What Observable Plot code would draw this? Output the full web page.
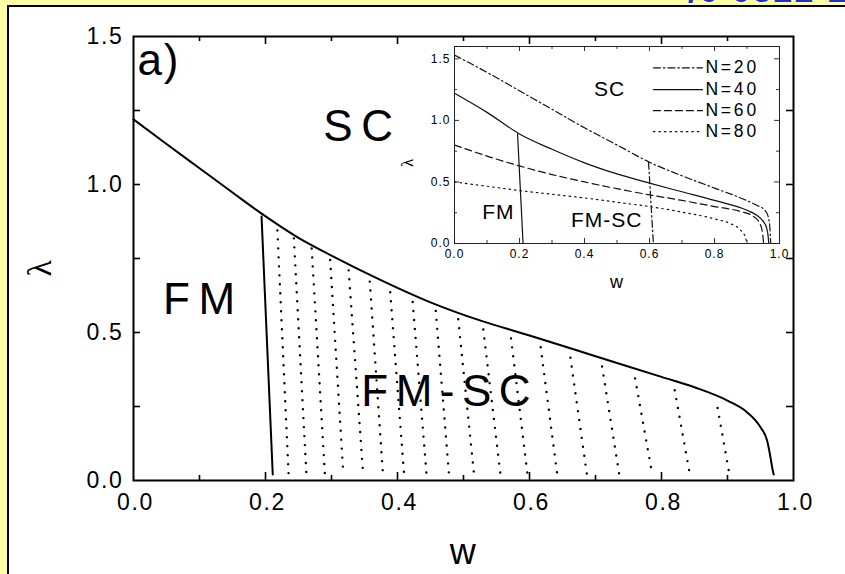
<!DOCTYPE html>
<html><head><meta charset="utf-8">
<script src="https://cdn.jsdelivr.net/npm/d3@7"></script>
<script src="https://cdn.jsdelivr.net/npm/@observablehq/plot@0.6"></script>
<style>
html,body{margin:0;padding:0;background:#ffffa4;}
#wrap{position:relative;width:845px;height:574px;overflow:hidden;background:#ffffa4;font-family:"Liberation Sans",Arial,sans-serif;}
#ref{position:absolute;left:688px;top:-29px;font:bold 34px "Liberation Sans",Arial,sans-serif;color:#1f2fd6;letter-spacing:2px;white-space:nowrap;}
#panel{position:absolute;left:7px;top:5px;width:900px;height:620px;background:#fff;border:2px solid #000;}
#main,#inset{position:absolute;left:0;top:0;}
svg{overflow:visible}
</style></head><body>
<div id="wrap"><div id="ref">/0 0522 1</div><div id="panel"></div><div id="main"></div><div id="inset"></div></div>
<script>
// ---------- main panel (a) : N = 40 ----------
const mainW = [0,0.05,0.1,0.15,0.192,0.25,0.3,0.374,0.45,0.526,0.6,0.7,0.8,0.85,0.9,0.93,0.95,0.96,0.965,0.968,0.97];
const mainL = [1.22,1.137,1.055,0.973,0.905,0.82,0.76,0.678,0.602,0.54,0.49,0.42,0.35,0.315,0.27,0.23,0.18,0.135,0.08,0.04,0.02];
const fmW = [0.194, 0.211];
const fmL = [0.892, 0.02];
// dotted lines inside FM-SC region
const dotTopW = [0.218,0.243,0.270,0.298,0.326,0.358,0.389,0.423,0.458,0.492,0.53,0.572,0.617,0.662,0.71,0.76,0.82,0.885];
const dotTopL = [0.845,0.818,0.784,0.745,0.71,0.672,0.636,0.603,0.573,0.545,0.51,0.48,0.45,0.415,0.385,0.345,0.305,0.245];
const dotBotW = [0.235,0.262,0.290,0.318,0.348,0.378,0.410,0.444,0.478,0.516,0.556,0.597,0.642,0.687,0.736,0.786,0.843,0.903];
const dotBotL = 0.02;
const mainXTicks = [0,0.2,0.4,0.6,0.8,1.0];
const mainYTicks = [0,0.5,1.0,1.5];
const mainXMajor = [0.2,0.4,0.6,0.8];
const mainXMinor = [0.1,0.3,0.5,0.7,0.9];
const mainYMinor = [0.25,0.5,0.75,1.0,1.25];
const mainLabels = ["SC","FM","FM-SC"];
const mainLabelW = [0.341,0.10,0.473];
const mainLabelL = [1.196,0.611,0.30];

// ---------- inset : N = 20, 40, 60, 80 ----------
const series = ["N=20","N=40","N=60","N=80"];
const dashes = ["7,3,1.5,3", null, "7,4", "1.5,4"];
const inW20 = [0,0.1,0.2,0.3,0.4,0.5,0.6,0.7,0.8,0.88,0.93,0.955,0.965,0.97,0.972,0.973];
const inL20 = [1.53,1.39,1.24,1.09,0.94,0.80,0.66,0.55,0.45,0.37,0.31,0.27,0.22,0.14,0.05,0];
const inW40 = [0,0.1,0.2,0.3,0.4,0.5,0.6,0.7,0.8,0.9,0.93,0.95,0.96,0.965,0.967];
const inL40 = [1.22,1.065,0.89,0.765,0.655,0.565,0.49,0.42,0.35,0.27,0.23,0.18,0.13,0.06,0];
const inW60 = [0,0.1,0.2,0.3,0.4,0.5,0.6,0.7,0.8,0.88,0.92,0.94,0.948,0.951];
const inL60 = [0.80,0.71,0.63,0.56,0.50,0.445,0.395,0.35,0.30,0.26,0.22,0.16,0.08,0];
const inW80 = [0,0.1,0.2,0.3,0.4,0.5,0.6,0.7,0.8,0.85,0.88,0.895,0.9];
const inL80 = [0.50,0.465,0.43,0.40,0.37,0.335,0.30,0.255,0.20,0.16,0.11,0.05,0];
const bndW20 = [0.597,0.612], bndL20 = [0.66,0];
const bndW40 = [0.194,0.211], bndL40 = [0.89,0];
const legendY = [1.427,1.249,1.079,0.908];
const legendX = [0.612,0.763];
const legendTextX = 0.772;
const inXTicks = [0,0.2,0.4,0.6,0.8,1.0];
const inYTicks = [0,0.5,1.0,1.5];
const inXMajor = [0.2,0.4,0.6,0.8];
const inXMinor = [0.1,0.3,0.5,0.7,0.9];
const inYMajor = [0.5,1.0,1.5];
const inYMinor = [0.25,0.75,1.25];
const inLabels = ["SC","FM","FM-SC"];
const inLabelW = [0.474,0.132,0.465];
const inLabelL = [1.253,0.255,0.187];

const pts = (ws, ls, k) => ws.map((w,i) => ({w, l: ls[i], k}));
const fmt = d3.format(".1f");

// ----- main -----
const mainCurve = pts(mainW, mainL, "c");
const fmLine = pts(fmW, fmL, "b");
const dotLines = dotTopW.flatMap((w,i) => [{w, l: dotTopL[i], k: i}, {w: dotBotW[i], l: dotBotL, k: i}]);

const main = Plot.plot({
  width: 845, height: 574,
  marginLeft: 133, marginRight: 52, marginTop: 36, marginBottom: 94,
  x: {domain: [0,1]}, y: {domain: [0,1.5]},
  style: {background: "transparent", fontFamily: "Liberation Sans, Arial, sans-serif", letterSpacing: "0.17em", color: "black", overflow: "visible"},
  marks: [
    Plot.ruleX(mainXMajor, {y1: 0, y2: 0.027, strokeWidth: 1.6}),
    Plot.ruleX(mainXMajor, {y1: 1.5, y2: 1.473, strokeWidth: 1.6}),
    Plot.ruleX(mainXMinor, {y1: 0, y2: 0.017, strokeWidth: 1.6}),
    Plot.ruleX(mainXMinor, {y1: 1.5, y2: 1.483, strokeWidth: 1.6}),
    Plot.ruleY(mainYMinor, {x1: 0, x2: 0.0106, strokeWidth: 1.6}),
    Plot.ruleY(mainYMinor, {x1: 1, x2: 0.9894, strokeWidth: 1.6}),
    Plot.axisX({ticks: mainXTicks, tickFormat: fmt, tickSize: 0, tickPadding: 13, fontSize: 23, label: null, dx: 2}),
    Plot.axisY({ticks: mainYTicks, tickFormat: fmt, tickSize: 0, tickPadding: 10, fontSize: 23, label: null}),
    Plot.line(dotLines, {x: "w", y: "l", z: "k", strokeWidth: 2.4, strokeDasharray: "0,9", strokeLinecap: "round"}),
    Plot.line(mainCurve, {x: "w", y: "l", strokeWidth: 2, curve: "monotone-x"}),
    Plot.line(fmLine, {x: "w", y: "l", strokeWidth: 2}),
    Plot.frame({strokeWidth: 2}),
    Plot.text(mainLabels, {x: (d,i) => mainLabelW[i], y: (d,i) => mainLabelL[i], fontSize: 44, lineAnchor: "middle", dx: 4}),
    Plot.text(["a)"], {x: [0.006], y: [1.419], textAnchor: "start", lineAnchor: "middle", fontSize: 44}),
    Plot.text(["w"], {frameAnchor: "bottom", dy: 72, fontSize: 36, lineAnchor: "middle"}),
    Plot.text(["λ"], {frameAnchor: "left", dx: -93, dy: 18, rotate: -90, fontSize: 34, fontFamily: "Liberation Serif, serif", lineAnchor: "middle"})
  ]
});
document.getElementById("main").appendChild(main);
// letter spacing of the region names, as in the reference
main.querySelectorAll("text").forEach(t => {
  if (t.textContent === "SC" || t.textContent === "FM") t.setAttribute("letter-spacing", "0.2em");
  if (t.textContent === "FM-SC") t.setAttribute("letter-spacing", "0.17em");
});

// ----- inset -----
const inCurves = [
  ...pts(inW20, inL20, "N=20"), ...pts(inW40, inL40, "N=40"),
  ...pts(inW60, inL60, "N=60"), ...pts(inW80, inL80, "N=80")
];
const bnd20 = pts(bndW20, bndL20, "N=20");
const bnd40 = pts(bndW40, bndL40, "N=40");
const legendLines = series.flatMap((s,i) => legendX.map(x => ({w: x, l: legendY[i], k: s})));

const seriesMarks = series.map((s,i) => Plot.line(inCurves.filter(d => d.k === s), {x: "w", y: "l", stroke: "#111", strokeWidth: 1.2, strokeDasharray: dashes[i], curve: "monotone-x"}));
const legendMarks = series.map((s,i) => Plot.line(legendLines.filter(d => d.k === s), {x: "w", y: "l", stroke: "#111", strokeWidth: 1.2, strokeDasharray: dashes[i]}));

const inset = Plot.plot({
  width: 845, height: 300,
  marginLeft: 454, marginRight: 66, marginTop: 46, marginBottom: 57,
  x: {domain: [0,1]}, y: {domain: [0,1.6]},
  style: {background: "transparent", fontFamily: "Liberation Sans, Arial, sans-serif", letterSpacing: "0.1em", color: "black", overflow: "visible"},
  marks: [
    Plot.frame({fill: "white", stroke: "none"}),
    Plot.ruleX(inXMajor, {y1: 0, y2: 0.041, stroke: "#333"}),
    Plot.ruleX(inXMajor, {y1: 1.6, y2: 1.559, stroke: "#333"}),
    Plot.ruleX(inXMinor, {y1: 0, y2: 0.024, stroke: "#333"}),
    Plot.ruleX(inXMinor, {y1: 1.6, y2: 1.576, stroke: "#333"}),
    Plot.ruleY(inYMajor, {x1: 0, x2: 0.0154, stroke: "#333"}),
    Plot.ruleY(inYMajor, {x1: 1, x2: 0.9846, stroke: "#333"}),
    Plot.ruleY(inYMinor, {x1: 0, x2: 0.0092, stroke: "#333"}),
    Plot.ruleY(inYMinor, {x1: 1, x2: 0.9908, stroke: "#333"}),
    Plot.axisX({ticks: inXTicks, tickFormat: fmt, tickSize: 0, tickPadding: 6, fontSize: 12, label: null}),
    Plot.axisY({ticks: inYTicks, tickFormat: fmt, tickSize: 0, tickPadding: 4, fontSize: 12, label: null}),
    ...seriesMarks,
    Plot.line(bnd20, {x: "w", y: "l", stroke: "#111", strokeWidth: 1.2, strokeDasharray: dashes[0]}),
    Plot.line(bnd40, {x: "w", y: "l", stroke: "#111", strokeWidth: 1.2}),
    ...legendMarks,
    Plot.text(series, {x: [legendTextX,legendTextX,legendTextX,legendTextX], y: legendY, textAnchor: "start", lineAnchor: "middle", fontSize: 17.5}),
    Plot.text(inLabels, {x: (d,i) => inLabelW[i], y: (d,i) => inLabelL[i], fontSize: 21, lineAnchor: "middle", dx: 1}),
    Plot.frame({stroke: "#222", strokeWidth: 1}),
    Plot.text(["w"], {frameAnchor: "bottom", dy: 39, fontSize: 18, lineAnchor: "middle"}),
    Plot.text(["λ"], {frameAnchor: "left", dx: -47, dy: 22, rotate: -90, fontSize: 17, fontFamily: "Liberation Serif, serif", lineAnchor: "middle"})
  ]
});
document.getElementById("inset").appendChild(inset);
inset.querySelectorAll("text").forEach(t => { if (series.includes(t.textContent)) t.setAttribute("letter-spacing", "0.16em"); });
</script>
</body></html>
